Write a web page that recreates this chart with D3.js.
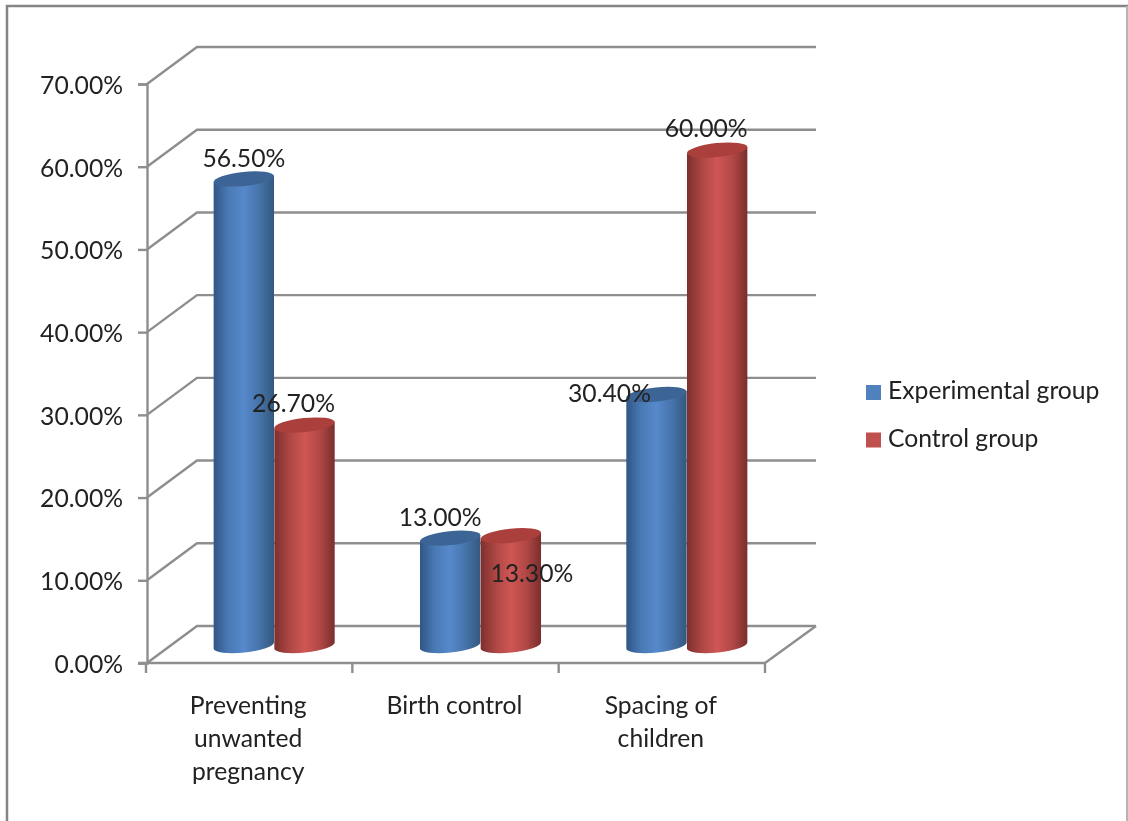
<!DOCTYPE html>
<html><head><meta charset="utf-8">
<script src="https://cdn.jsdelivr.net/npm/d3@7"></script>
<style>html,body{margin:0;padding:0;background:#fff;overflow:hidden}svg{display:block;filter:blur(0.4px)}text{font-family:Lato,"Open Sans",sans-serif;fill:#222}</style>
</head><body><div id="c"></div>
<script>
const categories = [["Preventing","unwanted","pregnancy"],["Birth control"],["Spacing of","children"]];
const seriesNames = ["Experimental group","Control group"];
const experimental = [56.5,13.0,30.4];
const control = [26.7,13.3,60.0];
const yTicks = [0,10,20,30,40,50,60,70];
const seriesColors = ["#4f81bd","#c0504d"];
const gradStops = [["#2f5686","#4a7ab5","#5689cb","#4674ab","#34587f"],["#7c2f2e","#ae4744","#cf5654","#b24846","#7a2e2d"]];
const capColors = ["#3c6595","#ab3f3c"];
const labelOffsets = [[[0,-12.4],[-11,-13.2]],[[-10,-12.1],[21,45.9]],[[-47,7.6],[-11,-13.3]]];

const W=1128,H=821,FS=24.7;
const svg=d3.select("#c").append("svg").attr("width",W).attr("height",H);
const gridColor="#8e8e8e";
const frame=svg.append("g").attr("fill","none");
frame.append("path").attr("d","M7,821V6H1128").attr("stroke","#858585").attr("stroke-width",2.5);
frame.append("path").attr("d","M1127,6V821").attr("stroke","#b5b5b5").attr("stroke-width",2);

const x0=147,x1=765,dx=50,dy=-37,floorY=663,topY=84;
const y=d3.scaleLinear().domain([0,70]).range([floorY,topY]);
const yBar=d3.scaleLinear().domain([0,70]).range([645.5,67.5]);
const cat=d3.scaleBand().domain(d3.range(categories.length)).range([x0+dx/2-1,x1+dx/2]);
const ser=d3.scaleBand().domain(d3.range(seriesNames.length)).range([0,cat.step()]).paddingInner(0).paddingOuter(0.7);

const g=svg.append("g").attr("fill","none").attr("stroke",gridColor).attr("stroke-width",2.4);
g.selectAll(".wall").data(yTicks).join("path").attr("class","wall")
 .attr("d",d=>`M${x0},${y(d)}L${x0+dx},${y(d)+dy}H${x1+dx+1}`);
g.append("path").attr("d",`M${x1},${floorY}L${x1+dx+1},${floorY+dy}`);

const yAxis=d3.axisLeft(y).tickValues(yTicks).tickSize(9).tickPadding(15).tickFormat(d=>d3.format(".2f")(d)+"%");
const ya=svg.append("g").attr("transform",`translate(${x0},0)`).call(yAxis);
ya.selectAll("path,line").attr("stroke",gridColor).attr("stroke-width",2.4);
ya.selectAll("text").attr("font-size",FS).attr("dy","0.38em").style("font-family","Lato");
const xa=svg.append("g").attr("stroke",gridColor).attr("stroke-width",2.4);
xa.append("line").attr("x1",x0-9).attr("x2",x1).attr("y1",floorY).attr("y2",floorY);
xa.selectAll(".t").data(d3.range(categories.length+1)).join("line").attr("class","t")
 .attr("x1",i=>x0-1+i*cat.step()).attr("x2",i=>x0-1+i*cat.step()).attr("y1",floorY).attr("y2",floorY+10);

const defs=svg.append("defs");
gradStops.forEach((st,i)=>{
 const lg=defs.append("linearGradient").attr("id","g"+i);
 st.forEach((c,j)=>lg.append("stop").attr("offset",[0,.25,.5,.75,1][j]).attr("stop-color",c));
});

const TILT=6, ROT=TILT*Math.PI/180, RY=7;
function cyl(sel,cx,rx,top,base,s){
 const ex=rx*Math.cos(ROT), ey=rx*Math.sin(ROT);
 sel.append("path").attr("fill",`url(#g${s})`)
  .attr("d",`M${cx-ex},${top+ey}L${cx+ex},${top-ey}L${cx+ex},${base-ey}A${rx},${RY} ${-TILT} 0 1 ${cx-ex},${base+ey}Z`);
 sel.append("ellipse").attr("cx",cx).attr("cy",top).attr("rx",rx).attr("ry",RY)
  .attr("transform",`rotate(${-TILT} ${cx} ${top})`).attr("fill",capColors[s]);
}
const values=[experimental,control];
const bars=svg.append("g");
categories.forEach((_,c)=>{
 values.forEach((vals,s)=>{
  const cx=cat(c)+ser(s)+ser.bandwidth()/2;
  cyl(bars.append("g"),cx,ser.bandwidth()/2,yBar(vals[c]),yBar(0),s);
 });
});
categories.forEach((_,c)=>{
 values.forEach((vals,s)=>{
  const cx=cat(c)+ser(s)+ser.bandwidth()/2, o=labelOffsets[c][s];
  svg.append("text").attr("x",cx+o[0]).attr("y",yBar(vals[c])+o[1])
   .attr("text-anchor","middle").attr("font-size",FS).text(d3.format(".2f")(vals[c])+"%");
 });
});
categories.forEach((lines,c)=>{
 const t=svg.append("text").attr("text-anchor","middle").attr("font-size",FS);
 lines.forEach((l,i)=>t.append("tspan").attr("x",x0-2+(c+.5)*cat.step()).attr("y",714+i*33).text(l));
});
const lg=svg.append("g").selectAll("g").data(seriesNames).join("g").attr("transform",(d,i)=>`translate(866,${385+i*47.5})`);
lg.append("rect").attr("width",15).attr("height",15).attr("fill",(d,i)=>seriesColors[i]);
lg.append("text").attr("x",22).attr("y",14).attr("font-size",FS).text(d=>d);
</script></body></html>
